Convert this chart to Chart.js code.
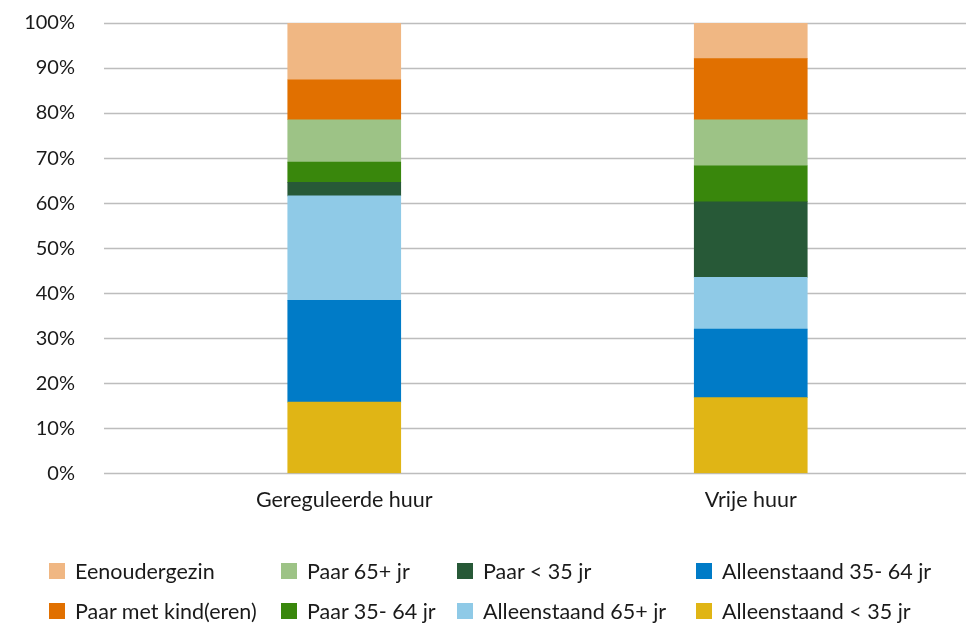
<!DOCTYPE html>
<html>
<head>
<meta charset="utf-8">
<script src="https://cdn.jsdelivr.net/npm/chart.js@4.4.0/dist/chart.umd.min.js"></script>
<style>
  html, body { margin: 0; padding: 0; background: #fff; }
  #wrap { position: relative; width: 966px; height: 623px; overflow: hidden; }
  #legend { position: absolute; left: 0; top: 0; width: 966px; height: 623px; pointer-events: none;
            font-family: Lato, "Open Sans", sans-serif; font-size: 21.5px; color: #1a1a1a; }
  .item { position: absolute; display: flex; align-items: center; white-space: nowrap; }
  .sw { width: 16px; height: 16px; margin-right: 10px; }
</style>
</head>
<body>
<div id="wrap">
  <canvas id="c" width="966" height="623"></canvas>
  <div id="legend"></div>
</div>
<script>
(function(){
  // categories
  const categories = ['Gereguleerde huur', 'Vrije huur'];

  // series, bottom of the stack first
  const seriesNames = [
    'Alleenstaand < 35 jr',
    'Alleenstaand 35- 64 jr',
    'Alleenstaand 65+ jr',
    'Paar < 35 jr',
    'Paar 35- 64 jr',
    'Paar 65+ jr',
    'Paar met kind(eren)',
    'Eenoudergezin'
  ];
  const alleenstaandJong = [15.8, 16.8];
  const alleenstaandMidden = [22.6, 15.2];
  const alleenstaandOud = [23.2, 11.5];
  const paarJong = [3.0, 16.8];
  const paarMidden = [4.5, 8.0];
  const paarOud = [9.4, 10.2];
  const paarKind = [8.9, 13.6];
  const eenouder = [12.6, 7.9];
  const seriesValues = [alleenstaandJong, alleenstaandMidden, alleenstaandOud, paarJong, paarMidden, paarOud, paarKind, eenouder];
  const seriesColors = ['#e0b515', '#007bc7', '#8fcae7', '#275937', '#39870c', '#9dc386', '#e17000', '#f0b783'];

  const yTicks = [0, 10, 20, 30, 40, 50, 60, 70, 80, 90, 100];

  const FONT = 'Lato, "Open Sans", sans-serif';

  // horizontal gridlines run wider than the plot area in the original
  const gridPlugin = {
    id: 'wideGrid',
    beforeDatasetsDraw(chart) {
      const y = chart.scales.y;
      const ctx = chart.ctx;
      ctx.save();
      ctx.strokeStyle = '#bdbdbd';
      ctx.lineWidth = 1.5;
      yTicks.forEach(v => {
        const py = Math.round(y.getPixelForValue(v)) + 0.5;
        ctx.beginPath();
        ctx.moveTo(104, py);
        ctx.lineTo(966, py);
        ctx.stroke();
      });
      ctx.restore();
    }
  };

  const chart = new Chart(document.getElementById('c').getContext('2d'), {
    type: 'bar',
    data: {
      labels: categories,
      datasets: seriesNames.map((name, i) => ({
        label: name,
        data: seriesValues[i],
        backgroundColor: seriesColors[i],
        borderWidth: 0,
        barThickness: 113
      }))
    },
    options: {
      responsive: false,
      animation: false,
      layout: { padding: { left: 0, right: 12, top: 0, bottom: 96 } },
      plugins: { legend: { display: false }, tooltip: { enabled: false } },
      scales: {
        x: {
          stacked: true,
          offset: true,
          grid: { display: false, drawTicks: false },
          border: { display: false },
          ticks: { color: '#1a1a1a', font: { family: FONT, size: 21.5 }, padding: 14, maxRotation: 0 }
        },
        y: {
          stacked: true,
          min: 0,
          max: 100,
          afterBuildTicks(s) { s.ticks = yTicks.map(v => ({ value: v })); },
          // ticks are invisible; their length only pushes the labels left
          grid: { display: false, drawTicks: true, tickLength: 55, tickColor: 'transparent' },
          border: { display: false },
          ticks: { color: '#1a1a1a', font: { family: FONT, size: 20 }, padding: 11,
                   callback: v => v + '%' },
          afterFit(s) { s.width = 141; }
        }
      }
    },
    plugins: [gridPlugin]
  });

  // legend: column-major, top of stack first
  const legendOrder = [7, 6, 5, 4, 3, 2, 1, 0];
  const colX = [49, 281, 457, 696];
  const rowY = [571, 611];
  const legend = document.getElementById('legend');
  legendOrder.forEach((idx, k) => {
    const col = Math.floor(k / 2), row = k % 2;
    const el = document.createElement('div');
    el.className = 'item';
    el.style.left = colX[col] + 'px';
    el.style.top = (rowY[row] - 13) + 'px';
    const sw = document.createElement('span');
    sw.className = 'sw';
    sw.style.background = seriesColors[idx];
    const tx = document.createElement('span');
    tx.textContent = seriesNames[idx];
    el.appendChild(sw); el.appendChild(tx);
    legend.appendChild(el);
  });
})();
</script>
</body>
</html>
